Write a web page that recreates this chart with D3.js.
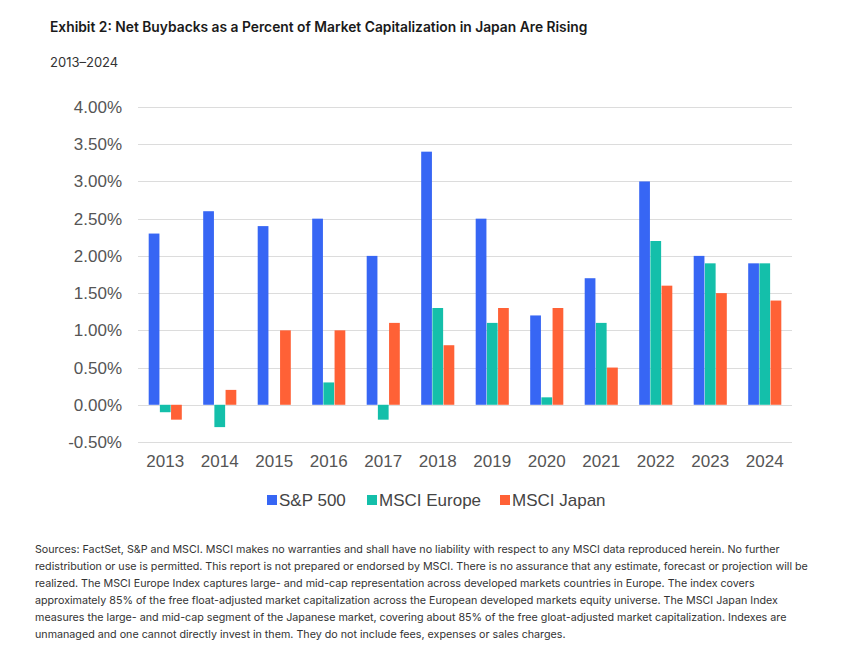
<!DOCTYPE html>
<html><head><meta charset="utf-8">
<script src="https://cdn.jsdelivr.net/npm/d3@7"></script>
<style>html,body{margin:0;padding:0;background:#fff;}</style>
</head><body>
<svg id="c" width="860" height="653"></svg>
<script>
const years = ["2013","2014","2015","2016","2017","2018","2019","2020","2021","2022","2023","2024"];
const seriesNames = ["S&P 500","MSCI Europe","MSCI Japan"];
const sp500 = [2.3,2.6,2.4,2.5,2.0,3.4,2.5,1.2,1.7,3.0,2.0,1.9];
const msciEurope = [-0.1,-0.3,0,0.3,-0.2,1.3,1.1,0.1,1.1,2.2,1.9,1.9];
const msciJapan = [-0.2,0.2,1.0,1.0,1.1,0.8,1.3,1.3,0.5,1.6,1.5,1.4];
const yTicks = [-0.5,0,0.5,1,1.5,2,2.5,3,3.5,4];
const colors = ["#3766f4","#14bfaa","#ff6136"];
const title = "Exhibit 2: Net Buybacks as a Percent of Market Capitalization in Japan Are Rising";
const subtitle = "2013\u20132024";
const notes = [
"Sources: FactSet, S&P and MSCI. MSCI makes no warranties and shall have no liability with respect to any MSCI data reproduced herein. No further",
"redistribution or use is permitted. This report is not prepared or endorsed by MSCI. There is no assurance that any estimate, forecast or projection will be",
"realized. The MSCI Europe Index captures large- and mid-cap representation across developed markets countries in Europe. The index covers",
"approximately 85% of the free float-adjusted market capitalization across the European developed markets equity universe. The MSCI Japan Index",
"measures the large- and mid-cap segment of the Japanese market, covering about 85% of the free gloat-adjusted market capitalization. Indexes are",
"unmanaged and one cannot directly invest in them. They do not include fees, expenses or sales charges."
];
const seriesData = [sp500, msciEurope, msciJapan];

const svg = d3.select("#c");
const plotLeft = 138, plotRight = 792, plotTop = 107, plotBottom = 442;

const y = d3.scaleLinear().domain([-0.5,4]).range([plotBottom, plotTop]);
const x0 = d3.scaleBand().domain(years).range([plotLeft,plotRight]).paddingInner(0.376).paddingOuter(0.188);
const x1 = d3.scaleBand().domain(seriesNames).range([0, x0.bandwidth()]).padding(0.04);

function fitText(sel, target){
  const node = sel.node();
  const fs = parseFloat(sel.attr("font-size"));
  const w = node.getComputedTextLength();
  if (w > 0) sel.attr("font-size", (fs*target/w).toFixed(2));
}
const t = svg.append("text").attr("x",50).attr("y",32).attr("font-family","Inter, 'Open Sans', sans-serif")
  .attr("font-weight",600).attr("font-size",13).attr("fill","#1a1a1a").text(title);
fitText(t, 538);
svg.append("text").attr("x",50).attr("y",67).attr("font-family","Inter, 'Open Sans', sans-serif")
  .attr("font-size",13).attr("fill","#333").text(subtitle);

// grid
svg.append("g").selectAll("line").data(yTicks).join("line")
  .attr("x1",plotLeft).attr("x2",plotRight)
  .attr("y1",d=>Math.round(y(d))+0.5).attr("y2",d=>Math.round(y(d))+0.5)
  .attr("stroke","#dcdcdc").attr("stroke-width",1);

// y axis labels
const yAxis = d3.axisLeft(y).tickValues(yTicks).tickFormat(d=>d.toFixed(2)+"%").tickSize(0).tickPadding(16);
const ya = svg.append("g").attr("transform",`translate(${plotLeft},0)`).call(yAxis);
ya.select(".domain").remove();
ya.selectAll("text").attr("font-family","'Liberation Sans', Arial, sans-serif").attr("font-size",17).attr("fill","#555");

// x axis labels
const xAxis = d3.axisBottom(x0).tickSize(0).tickPadding(13);
const xa = svg.append("g").attr("transform",`translate(0,${plotBottom})`).call(xAxis);
xa.select(".domain").remove();
xa.selectAll("text").attr("font-family","'Liberation Sans', Arial, sans-serif").attr("font-size",17).attr("fill","#555");

// bars
const groups = svg.append("g").selectAll("g").data(years).join("g")
  .attr("transform",d=>`translate(${x0(d)},0)`);
groups.selectAll("rect").data((d,i)=>seriesNames.map((s,j)=>({s, v: seriesData[j][i], j})))
  .join("rect")
  .attr("x",d=>x1(d.s)).attr("width",x1.bandwidth())
  .attr("y",d=>Math.min(y(d.v),y(0))).attr("height",d=>Math.abs(y(d.v)-y(0)))
  .attr("fill",d=>colors[d.j]);

// legend
const legendX = [267, 367, 500];
const lg = svg.append("g");
seriesNames.forEach((s,i)=>{
  lg.append("rect").attr("x",legendX[i]).attr("y",495).attr("width",10).attr("height",10).attr("fill",colors[i]);
  lg.append("text").attr("x",legendX[i]+12).attr("y",506).attr("font-family","'Liberation Sans', Arial, sans-serif")
    .attr("font-size",17).attr("fill","#444").text(s);
});

// notes
const noteY = [553,570,587,604,621,638];
const noteSel = svg.append("g").selectAll("text").data(notes).join("text")
  .attr("x",35).attr("y",(d,i)=>noteY[i]).attr("font-family","Inter, 'Open Sans', sans-serif")
  .attr("font-size",11).attr("fill","#333").text(d=>d);
const ref = d3.select(noteSel.nodes()[1]);
fitText(ref, 773);
noteSel.attr("font-size", ref.attr("font-size"));
</script>
</body></html>
